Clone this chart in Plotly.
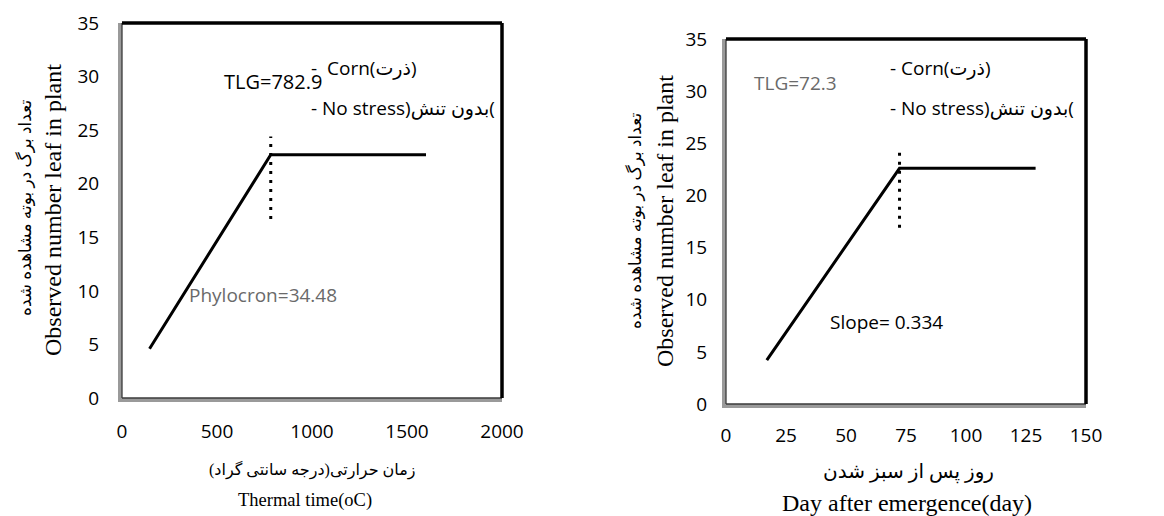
import plotly.graph_objects as go

# Leaf appearance vs thermal time (left panel)
thermal_x = [145, 782.9, 1600]
thermal_leaves = [4.6, 22.7, 22.7]
thermal_tlg = 782.9
thermal_marker_y = [16.7, 24.4]

# Leaf appearance vs days after emergence (right panel)
day_x = [17, 72.3, 129]
day_leaves = [4.2, 22.6, 22.6]
day_tlg = 72.3
day_marker_y = [16.9, 24.5]

x1_ticks = [0, 500, 1000, 1500, 2000]
x2_ticks = [0, 25, 50, 75, 100, 125, 150]
y_ticks = [0, 5, 10, 15, 20, 25, 30, 35]

W, H = 1164, 516
SANS = "Open Sans, DejaVu Sans"
SERIF = "Liberation Serif, DejaVu Serif, DejaVu Sans"


def px(x):
    return x / W


def py(y):
    return 1 - y / H


fig = go.Figure()

line_style = dict(color="black", width=3)
dot_style = dict(color="black", width=3, dash="3px,6px")

fig.add_trace(go.Scatter(x=thermal_x, y=thermal_leaves, mode="lines", line=line_style,
                         xaxis="x", yaxis="y", showlegend=False))
fig.add_trace(go.Scatter(x=[thermal_tlg, thermal_tlg], y=thermal_marker_y, mode="lines",
                         line=dot_style, xaxis="x", yaxis="y", showlegend=False))
fig.add_trace(go.Scatter(x=day_x, y=day_leaves, mode="lines", line=line_style,
                         xaxis="x2", yaxis="y2", showlegend=False))
fig.add_trace(go.Scatter(x=[day_tlg, day_tlg], y=day_marker_y, mode="lines",
                         line=dot_style, xaxis="x2", yaxis="y2", showlegend=False))

tick_font = dict(family=SANS, size=19, color="black")
axis_common = dict(showgrid=False, zeroline=False, ticks="", automargin=False,
                   showline=True, linecolor="#9a9a9a", linewidth=4,
                   tickfont=tick_font, fixedrange=True)

fig.update_layout(
    width=W, height=H,
    margin=dict(l=0, r=0, t=0, b=0, autoexpand=False),
    paper_bgcolor="white", plot_bgcolor="white",
    xaxis=dict(domain=[px(122), px(502)], range=[0, 2000], tickvals=x1_ticks,
               anchor="y", ticklabelstandoff=13, **axis_common),
    yaxis=dict(domain=[py(398), py(23)], range=[0, 35], tickvals=y_ticks,
               anchor="x", ticklabelstandoff=15, **axis_common),
    xaxis2=dict(domain=[px(726), px(1086)], range=[0, 150], tickvals=x2_ticks,
                anchor="y2", ticklabelstandoff=11, **axis_common),
    yaxis2=dict(domain=[py(404), py(39)], range=[0, 35], tickvals=y_ticks,
                anchor="x2", ticklabelstandoff=11, **axis_common),
)

# Frames: dark core over the grey left/bottom axis rule, heavy black rule on top/right
shapes = []
for xa, ya in [("x", "y"), ("x2", "y2")]:
    xr, yr = xa + " domain", ya + " domain"
    for seg in [(0, 0, 0, 1), (0, 0, 1, 0)]:
        shapes.append(dict(type="line", xref=xr, yref=yr, x0=seg[0], y0=seg[1], x1=seg[2], y1=seg[3],
                           line=dict(color="#3a3a3a", width=1.3)))
    for seg in [(0, 1, 1, 1), (1, 0, 1, 1)]:
        shapes.append(dict(type="line", xref=xr, yref=yr, x0=seg[0], y0=seg[1], x1=seg[2], y1=seg[3],
                           line=dict(color="black", width=3.5)))
fig.update_layout(shapes=shapes)

ann = []


def text(x, y, s, size, family=SANS, color="black", xanchor="center", angle=0,
         xref="paper", yref="paper"):
    ann.append(dict(x=x, y=y, xref=xref, yref=yref, text=s, showarrow=False,
                    xanchor=xanchor, yanchor="middle", textangle=angle,
                    font=dict(family=family, size=size, color=color)))


# Left panel labels
text(795, 29.5, "TLG=782.9", 20, xref="x", yref="y")
text(985, 30.8, "-  Corn(ذرت)", 19, xanchor="left", xref="x", yref="y")
text(984, 27.1, "- No stress)بدون تنش(", 19, xanchor="left", xref="x", yref="y")
text(342, 9.6, "Phylocron=34.48", 19, color="#6a6a6a", xanchor="left", xref="x", yref="y")

# Right panel labels
text(10.8, 30.8, "TLG=72.3", 19, color="#6a6a6a", xanchor="left", xref="x2", yref="y2")
text(67.5, 32.2, "- Corn(ذرت)", 19, xanchor="left", xref="x2", yref="y2")
text(67.5, 28.4, "- No stress)بدون تنش(", 19, xanchor="left", xref="x2", yref="y2")
text(42.5, 7.9, "Slope= 0.334", 19, xanchor="left", xref="x2", yref="y2")

# Axis titles
text(px(53), py(210), "Observed number leaf in plant", 24, family=SERIF, angle=-90)
text(px(25), py(208), "تعداد برگ در بوته مشاهده شده", 17, family=SERIF, angle=-90)
text(px(312), py(470), "زمان حرارتی(درجه سانتی گراد)", 16, family=SERIF)
text(px(305), py(500), "Thermal time(oC)", 18.5, family=SERIF)

text(px(665), py(221), "Observed number leaf in plant", 24, family=SERIF, angle=-90)
text(px(635), py(221), "تعداد برگ در بوته مشاهده شده", 17, family=SERIF, angle=-90)
text(px(908), py(472), "روز پس از سبز شدن", 20, family=SERIF)
text(px(907), py(503), "Day after emergence(day)", 24, family=SERIF)

fig.update_layout(annotations=ann)

fig.write_html("out.html")
